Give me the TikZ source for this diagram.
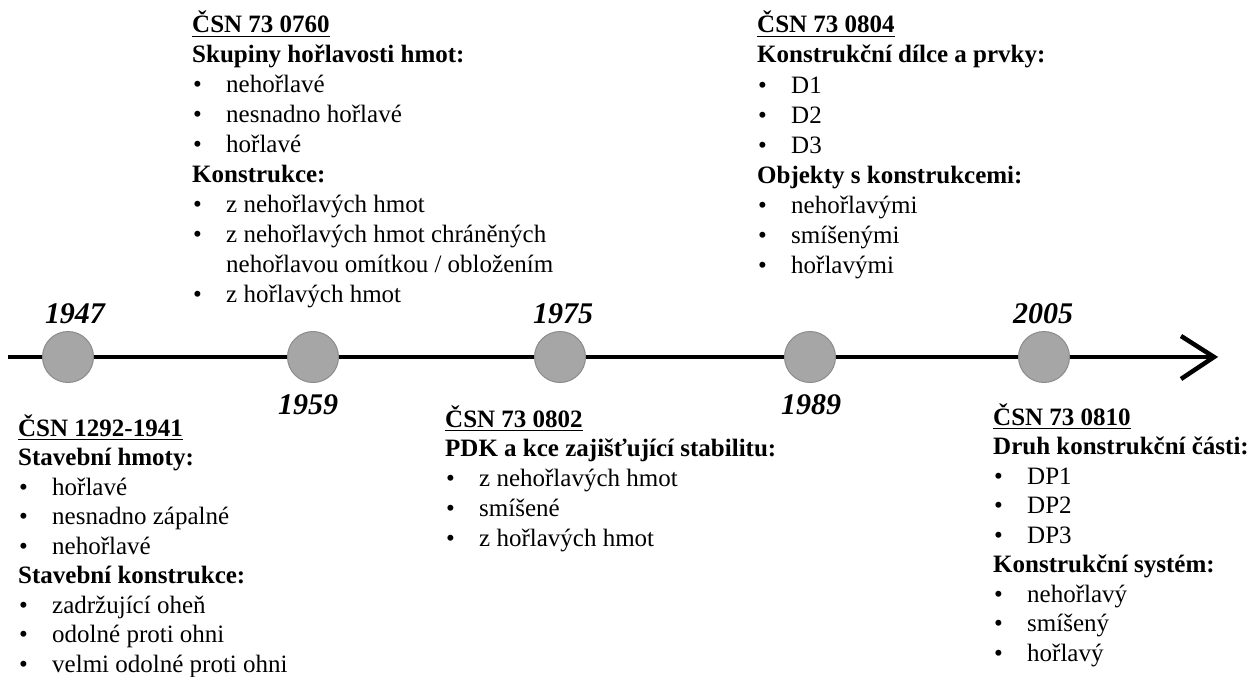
\documentclass[tikz,border=0pt]{standalone}
\usepackage{fontspec}
\setmainfont{Liberation Serif}
\definecolor{dotfill}{HTML}{A6A6A6}
\definecolor{dotedge}{HTML}{8C8C8C}
\newsavebox\hdbox
\newcommand\ulhead[1]{\sbox\hdbox{#1}\rlap{\rule[-4.4pt]{\wd\hdbox}{1.6pt}}\usebox\hdbox}
\tikzset{
  txt/.style={anchor=base west, inner sep=0pt, font=\fontsize{25}{30}\selectfont},
  hd/.style={anchor=base west, inner sep=0pt, font=\fontsize{25}{30}\selectfont\bfseries},
  yr/.style={anchor=base, inner sep=0pt, font=\fontsize{30}{36}\selectfont\bfseries\itshape},
  dot/.style={circle, minimum size=51pt, inner sep=0pt, fill=dotfill, draw=dotedge, line width=1pt},
  axisline/.style={line width=4.5pt, black},
}
% name, x0, baseline, text
\newcommand\headln[4]{\node[hd] (#1) at (#2,#3) {\ulhead{#4}};}
\newcommand\subln[4]{\node[hd] (#1) at (#2,#3) {#4};}
\newcommand\itemln[4]{\node[txt] (#1b) at (#2+1,#3) {\textbullet}; \node[txt] (#1) at (#2+34,#3) {#4};}
\newcommand\contln[4]{\node[txt] (#1) at (#2+34,#3) {#4};}
\begin{document}
\begin{tikzpicture}[x=1pt,y=-1pt]
\useasboundingbox (0,0) rectangle (1248,677);
% axis
\coordinate (start) at (8,357);
\coordinate (tip) at (1214,357);
\coordinate (armA) at (1181,336);
\coordinate (armB) at (1181,379);
\draw[axisline] (start) -- (tip);
\draw[axisline, line join=miter] (armA) -- (tip) -- (armB);
% dots
\node[dot] (d1947) at (68,357) {};
\node[dot] (d1959) at (313,357) {};
\node[dot] (d1975) at (560,357) {};
\node[dot] (d1989) at (810,357) {};
\node[dot] (d2005) at (1044,357) {};
% years
\node[yr] (y1947) at (75,323) {1947};
\node[yr] (y1959) at (308,414) {1959};
\node[yr] (y1975) at (563,323) {1975};
\node[yr] (y1989) at (811,414) {1989};
\node[yr] (y2005) at (1043,323) {2005};
% block A
\headln{a0}{18}{436}{ČSN 1292-1941}
\subln{a1}{18}{465.5}{Stavební hmoty:}
\itemln{a2}{18}{495}{hořlavé}
\itemln{a3}{18}{524.5}{nesnadno zápalné}
\itemln{a4}{18}{554}{nehořlavé}
\subln{a5}{18}{583.5}{Stavební konstrukce:}
\itemln{a6}{18}{613}{zadržující oheň}
\itemln{a7}{18}{642.5}{odolné proti ohni}
\itemln{a8}{18}{672}{velmi odolné proti ohni}
% block B
\headln{b0}{192}{33}{ČSN 73 0760}
\subln{b1}{192}{63}{Skupiny hořlavosti hmot:}
\itemln{b2}{192}{92.5}{nehořlavé}
\itemln{b3}{192}{122.5}{nesnadno hořlavé}
\itemln{b4}{192}{152}{hořlavé}
\subln{b5}{192}{182}{Konstrukce:}
\itemln{b6}{192}{212}{z nehořlavých hmot}
\itemln{b7}{192}{242}{z nehořlavých hmot chráněných}
\contln{b8}{192}{272}{nehořlavou omítkou / obložením}
\itemln{b9}{192}{302}{z hořlavých hmot}
% block C
\headln{c0}{445}{427}{ČSN 73 0802}
\subln{c1}{445}{456.5}{PDK a kce zajišťující stabilitu:}
\itemln{c2}{445}{486}{z nehořlavých hmot}
\itemln{c3}{445}{516}{smíšené}
\itemln{c4}{445}{546}{z hořlavých hmot}
% block D
\headln{e0}{757}{33}{ČSN 73 0804}
\subln{e1}{757}{63}{Konstrukční dílce a prvky:}
\itemln{e2}{757}{93}{D1}
\itemln{e3}{757}{123}{D2}
\itemln{e4}{757}{153}{D3}
\subln{e5}{757}{183}{Objekty s konstrukcemi:}
\itemln{e6}{757}{213}{nehořlavými}
\itemln{e7}{757}{243}{smíšenými}
\itemln{e8}{757}{273}{hořlavými}
% block E
\headln{f0}{993}{425}{ČSN 73 0810}
\subln{f1}{993}{454.5}{Druh konstrukční části:}
\itemln{f2}{993}{484}{DP1}
\itemln{f3}{993}{513.5}{DP2}
\itemln{f4}{993}{543}{DP3}
\subln{f5}{993}{572.5}{Konstrukční systém:}
\itemln{f6}{993}{602}{nehořlavý}
\itemln{f7}{993}{631.5}{smíšený}
\itemln{f8}{993}{661}{hořlavý}
\end{tikzpicture}
\end{document}
